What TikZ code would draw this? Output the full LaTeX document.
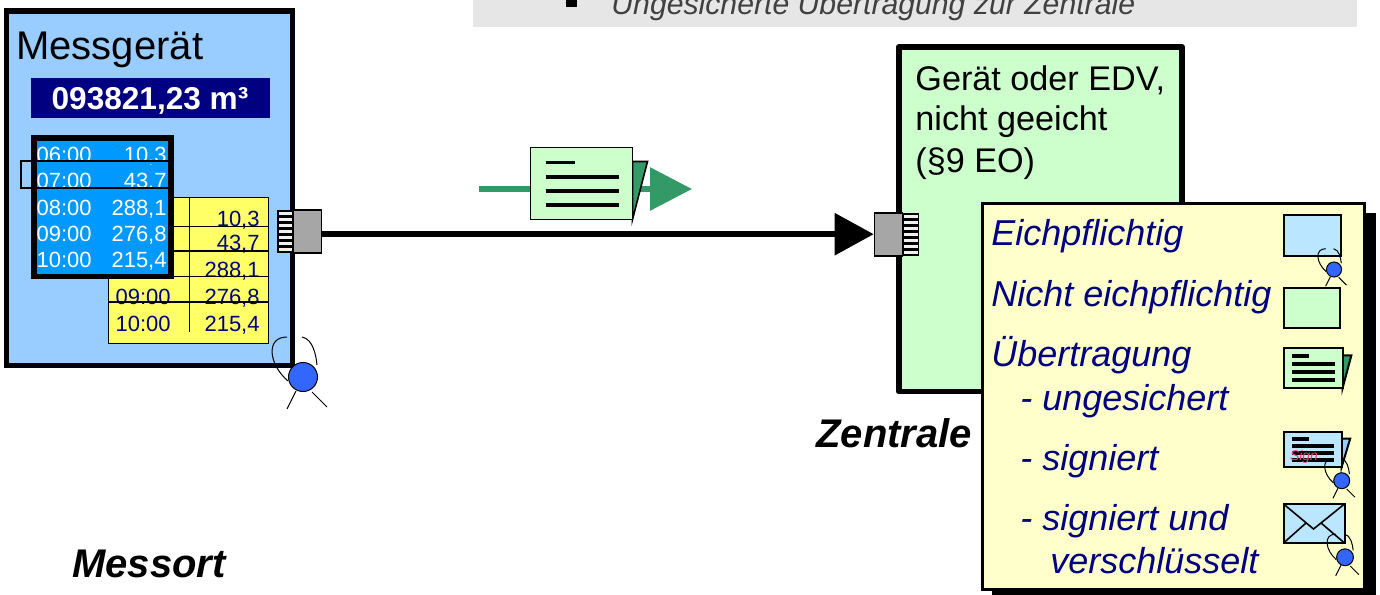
\documentclass[tikz,border=0pt]{standalone}
\usepackage{fontspec}
\setmainfont{Liberation Sans}
\usetikzlibrary{arrows.meta, positioning, calc}

\definecolor{meterblue}{HTML}{99CCFF}
\definecolor{tableblue}{HTML}{0099FF}
\definecolor{navy}{HTML}{000080}
\definecolor{tableyellow}{HTML}{FFFF66}
\definecolor{noteyellow}{HTML}{FFFFCC}
\definecolor{centralgreen}{HTML}{CCFFCC}
\definecolor{flapgreen}{HTML}{339966}
\definecolor{plaingray}{HTML}{A6A6A6}
\definecolor{sealblue}{HTML}{3366FF}
\definecolor{paleblue}{HTML}{BBE6FF}
\definecolor{bannergray}{HTML}{E6E6E6}
\definecolor{signpink}{HTML}{E8406F}

\tikzset{
  textlabel/.style={inner sep=0pt, anchor=base west, font=\fontsize{#1}{#1}\selectfont},
  legendtext/.style={inner sep=0pt, anchor=base west, text=navy, font=\fontsize{18}{18}\selectfont\itshape},
  captiontext/.style={inner sep=0pt, anchor=base west, font=\fontsize{20}{20}\selectfont\bfseries\itshape},
  rowtext/.style={inner sep=0pt, anchor=base east, font=\fontsize{11}{11}\selectfont},
  plugbox/.style={draw, line width=0.8pt, fill=plaingray, minimum width=14pt, minimum height=21.5pt, inner sep=0pt},
  noteicon/.style={draw=black, line width=1pt},
  textbar/.style={line width=#1, line cap=butt}
}

% Contacts of a plug
\newcommand{\contacts}[4]{
  \fill[black] (#1,#2) rectangle (#3,#4);
  \foreach \n in {0,...,6}
    \fill[white!88!gray] ($(#1,#2)+(1.5,{2.3+\n*5.9})$) rectangle ($(#3,#2)+(-1.5,{5.1+\n*5.9})$);
}

% Person with seal
\newcommand{\sealicon}[3]{
  \begin{scope}[shift={(#1,#2)}, scale=#3]
    \draw[line width=0.5pt] (-16,-40) .. controls (-38,-40) and (-34,-12) .. (-15,4);
    \draw[line width=0.5pt] (-1,-40) .. controls (10,-38) and (13,-22) .. (14,-12);
    \draw[line width=0.5pt] (-7,14) -- (-16,32);
    \draw[line width=0.5pt] (9,15) -- (24,30);
    \draw[fill=sealblue, line width=0.5pt] (0,0) circle (14.5);
  \end{scope}
}

% Document with flap
\newcommand{\docicon}[6]{
  \begin{scope}[shift={(#1,#2)}, #3]
    \draw[fill=#5, line width=#6] (102,14) -- (117,14) -- (102,72) -- cycle;
    \draw[fill=#4, line width=#6] (0,0) rectangle (102,72);
    \draw[textbar=1.9pt] (15,15) -- (44,15);
    \draw[textbar=1.9pt] (15,29.5) -- (88,29.5);
    \draw[textbar=1.9pt] (15,43.5) -- (88,43.5);
    \draw[textbar=1.9pt] (15,57.5) -- (88,57.5);
  \end{scope}
}

\begin{document}
\begin{tikzpicture}[x=0.5pt,y=-0.5pt]
  \clip (0,0) rectangle (1380,594);
  \fill[white] (0,0) rectangle (1380,594);

  % Banner
  \fill[bannergray] (473,-10) rectangle (1357,27);
  \fill[black] (566,-10) rectangle (577,7);
  \node[inner sep=0pt, anchor=base west, text=black!75, font=\fontsize{15.1}{15.1}\selectfont\itshape] (bannertext) at (611,14) {Ungesicherte Übertragung zur Zentrale};

  % Messgeraet
  \draw[line width=2.7pt, fill=meterblue] (6.7,11) rectangle (292.5,365.5);
  \node[textlabel=20] (metername) at (16,59) {Messgerät};
  \fill[navy] (31,78) rectangle (270,118);
  \node[inner sep=0pt, anchor=base, text=white, font=\fontsize{15.8}{15.8}\selectfont\bfseries] (meterreading) at (150,109) {093821,23 m³};

  % Yellow list
  \draw[line width=0.5pt, fill=tableyellow] (108,197.5) rectangle (268.5,343.5);
  \foreach \name/\row/\val in {a/226/10{,}3, b/250.7/43{,}7, c/277.7/288{,}1, d/304/276{,}8, e/331.7/215{,}4}
    \node[rowtext, text=navy] (yellow\name) at (260,\row) {\val};
  \node[rowtext, text=navy] (yellowtimed) at (171,304) {09:00};
  \node[rowtext, text=navy] (yellowtimee) at (171,331.7) {10:00};
  \draw[line width=0.7pt] (189.5,197.5) -- (189.5,332);
  \foreach \row in {226.7,251,276.7,302}
    \draw[line width=0.7pt] (108,\row) -- (268.5,\row);

  % Blue list
  \draw[line width=2.8pt, fill=tableblue] (33.8,137.7) rectangle (170.8,276.5);
  \foreach \name/\row/\tim/\val in {a/162.5/06:00/10{,}3, b/188.8/07:00/43{,}7, c/215/08:00/288{,}1, d/241.7/09:00/276{,}8, e/267.7/10:00/215{,}4}
  {
    \node[rowtext, text=white] (bluetime\name) at (92,\row) {\tim};
    \node[rowtext, text=white] (blue\name) at (167,\row) {\val};
  }
  \fill[tableblue] (36.5,160) rectangle (167.5,164);
  \fill[tableblue] (36.5,187) rectangle (167.5,192);
  \draw[line width=1pt] (20.5,160.8) rectangle (169,188);
  \draw[line width=2.8pt] (33.8,137.7) rectangle (170.8,276.5);

  % Zentrale
  \draw[line width=2.9pt, line join=round, fill=centralgreen] (898.7,47) rectangle (1182,391.5);
  \node[textlabel=17.1] (centraltexta) at (915,90) {Gerät oder EDV,};
  \node[textlabel=17.1] (centraltextb) at (915,130) {nicht geeicht};
  \node[textlabel=17.1] (centraltextc) at (915,172) {(§9 EO)};

  % Plugs
  \contacts{277}{210}{293.5}{253}
  \node[plugbox] (plugmeter) at (307.5,231.5) {};
  \contacts{902.5}{213}{919}{256}
  \node[plugbox] (plugcentral) at (888.5,234.2) {};
  \draw[line width=3pt, -{Triangle[length=19.5pt,width=20.5pt]}] (plugmeter.east |- plugcentral.west) -- (plugcentral.west);

  % Message
  \coordinate (msgstart) at (479,189);
  \coordinate (msgend) at (692,189);
  \draw[flapgreen, line width=3pt, -{Triangle[length=21pt,width=21pt]}] (msgstart) -- (msgend);
  \docicon{530.5}{147.5}{}{centralgreen}{flapgreen}{0.8pt}

  \sealicon{303}{377}{1}

  % Legend
  \fill[black] (992,213) rectangle (1376,600);
  \draw[line width=1.5pt, fill=noteyellow] (982.5,203) rectangle (1364,589);
  \node[legendtext] (legenda) at (991,245) {Eichpflichtig};
  \node[legendtext] (legendb) at (991,306) {Nicht eichpflichtig};
  \node[legendtext] (legendc) at (991,366) {Übertragung};
  \node[legendtext] (legendd) at (1020,410) {- ungesichert};
  \node[legendtext] (legende) at (1020,470) {- signiert};
  \node[legendtext] (legendf) at (1020,530) {- signiert und};
  \node[legendtext] (legendg) at (1050,573) {verschlüsselt};

  \draw[noteicon, fill=paleblue] (1283.5,215) rectangle (1340.5,255.5);
  \sealicon{1334}{269.5}{0.52}
  \draw[noteicon, fill=centralgreen] (1283.5,287.5) rectangle (1340,328);
  \docicon{1283.5}{347.5}{xscale=0.58,yscale=0.56}{centralgreen}{flapgreen}{1pt}
  \docicon{1283.5}{431.7}{xscale=0.57,yscale=0.49}{paleblue}{meterblue}{1pt}
  \node[inner sep=0pt, text=signpink, font=\fontsize{7}{7}\selectfont\itshape] (signmark) at (1304,457) {Sign};
  \sealicon{1341.7}{480.7}{0.55}
  \draw[noteicon, fill=paleblue] (1283.5,504) rectangle (1344.5,543);
  \draw[line width=0.8pt] (1283.5,504) -- (1313.5,529) -- (1344.5,504);
  \draw[line width=0.8pt] (1283.5,543) -- (1306,523);
  \draw[line width=0.8pt] (1344.5,543) -- (1321,523);
  \sealicon{1345}{557.3}{0.58}

  % Captions
  \node[captiontext] (captioncentral) at (816,447) {Zentrale};
  \node[captiontext] (captionmeter) at (72,577) {Messort};
\end{tikzpicture}
\end{document}
